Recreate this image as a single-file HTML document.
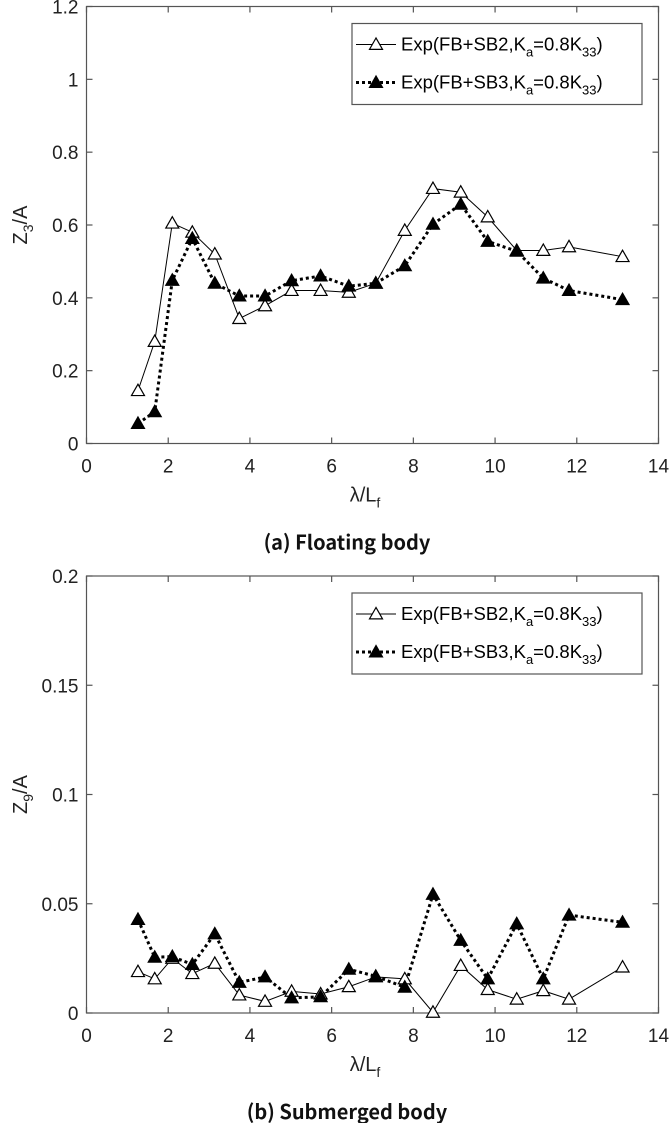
<!DOCTYPE html>
<html><head><meta charset="utf-8">
<style>
html,body{margin:0;padding:0;background:#fff;}
svg{display:block;font-family:"Liberation Sans",Arial,sans-serif;}
.cap{font-family:"Noto Sans CJK KR","Liberation Sans",sans-serif;font-weight:bold;}
</style></head>
<body>
<svg id="chart" width="670" height="1123" viewBox="0 0 670 1123" xmlns="http://www.w3.org/2000/svg"></svg>
<script>
const xCats = [1.26,1.67,2.10,2.59,3.14,3.74,4.37,5.02,5.73,6.42,7.08,7.79,8.48,9.16,9.82,10.53,11.18,11.81,13.12];
const topOpen = [0.145,0.28,0.605,0.58,0.52,0.343,0.378,0.42,0.42,0.415,0.44,0.585,0.70,0.69,0.622,0.53,0.53,0.54,0.513];
const topFilled = [0.055,0.087,0.448,0.563,0.44,0.405,0.405,0.447,0.46,0.432,0.44,0.488,0.602,0.657,0.555,0.528,0.454,0.42,0.395];
const botOpen = [0.0189,0.0156,0.025,0.018,0.0227,0.0082,0.0053,0.0099,0.0087,0.012,0.0165,0.0156,0.0003,0.0217,0.0107,0.0063,0.0102,0.0063,0.021];
const botFilled = [0.0428,0.0255,0.0258,0.0222,0.0362,0.014,0.0165,0.0069,0.0074,0.020,0.0168,0.0118,0.0543,0.0332,0.0156,0.0408,0.0156,0.0448,0.0415];
const xTicks = [0,2,4,6,8,10,12,14];
const topYTicks = [0,0.2,0.4,0.6,0.8,1,1.2];
const topYLabels = ["0","0.2","0.4","0.6","0.8","1","1.2"];
const botYTicks = [0,0.05,0.1,0.15,0.2];
const botYLabels = ["0","0.05","0.1","0.15","0.2"];

const svg = document.getElementById('chart');
const NS = 'http://www.w3.org/2000/svg';
function mk(tag, attrs, parent){
  const e = document.createElementNS(NS, tag);
  for (const k in attrs) e.setAttribute(k, attrs[k]);
  (parent||svg).appendChild(e);
  return e;
}
function tri(g, cx, cy, filled){
  const s = 6.5;
  return mk('polygon', {points:`${cx},${cy-s} ${cx-s},${cy+s*0.75} ${cx+s},${cy+s*0.75}`,
    fill: filled?'#000':'#fff', stroke:'#000','stroke-width':1.2}, g);
}
function panel(cfg){
  const L=86.5, R=658.5, T=cfg.top, B=cfg.top+437;
  const xs = v => L + (v-0)/14*(R-L);
  const ys = v => B - v/cfg.ymax*(B-T);
  const g = mk('g', {});
  
  
  const frame = mk('rect', {x:L,y:T,width:R-L,height:B-T,fill:'none',stroke:'#555','stroke-width':1.2}, g);
  
  
  xTicks.forEach(t=>{
    const x = xs(t);
    mk('line',{x1:x,y1:B,x2:x,y2:B-6,stroke:'#555','stroke-width':1.2},g);
    mk('line',{x1:x,y1:T,x2:x,y2:T+6,stroke:'#555','stroke-width':1.2},g);
    const tx = mk('text',{x:x,y:B+29,'font-size':19,'text-anchor':'middle',fill:'#222'},g);
    tx.textContent = t;
    
    
  });
  cfg.yticks.forEach((t,i)=>{
    const y = ys(t);
    mk('line',{x1:L,y1:y,x2:L+6,y2:y,stroke:'#555','stroke-width':1.2},g);
    mk('line',{x1:R,y1:y,x2:R-6,y2:y,stroke:'#555','stroke-width':1.2},g);
    const tx = mk('text',{x:L-8,y:y+7,'font-size':19,'text-anchor':'end',fill:'#222'},g);
    tx.textContent = cfg.ylabels[i];
    
    
  });
  const ptsO = xCats.map((x,i)=>xs(x)+','+ys(cfg.open[i])).join(' ');
  const ptsF = xCats.map((x,i)=>xs(x)+','+ys(cfg.filled[i])).join(' ');
  const lo = mk('polyline',{points:ptsO,fill:'none',stroke:'#000','stroke-width':1},g);
  
  
  const lf = mk('polyline',{points:ptsF,fill:'none',stroke:'#000','stroke-width':3,'stroke-dasharray':'3 3'},g);
  
  
  xCats.forEach((x,i)=>{
    const m = tri(g, xs(x), ys(cfg.open[i]), false);
    
    
  });
  xCats.forEach((x,i)=>{
    const m = tri(g, xs(x), ys(cfg.filled[i]), true);
    
    
  });
  const lg = mk('g',{},g);
  
  
  mk('rect',{x:352,y:T+17,width:290,height:81,fill:'#fff',stroke:'#555','stroke-width':1.2},lg);
  const r1 = T+38, r2 = T+76;
  mk('line',{x1:356,y1:r1,x2:396,y2:r1,stroke:'#000','stroke-width':1},lg);
  tri(lg,376,r1,false);
  mk('line',{x1:356,y1:r2,x2:396,y2:r2,stroke:'#000','stroke-width':3,'stroke-dasharray':'3 3'},lg);
  tri(lg,376,r2,true);
  [[r1,'SB2'],[r2,'SB3']].forEach(([y,s])=>{
    const t = mk('text',{x:401,y:y+6,'font-size':18.5,fill:'#000'},lg);
    t.innerHTML = `Exp(FB+${s},K<tspan dy="6" font-size="13">a</tspan><tspan dy="-6">=0.8K</tspan><tspan dy="6" font-size="13">33</tspan><tspan dy="-6">)</tspan>`;
    
    
  });
  const yl = mk('text',{x:0,y:0,'font-size':20,'text-anchor':'middle',fill:'#222',transform:`translate(27,${(T+B)/2}) rotate(-90)`},g);
  yl.innerHTML = `Z<tspan dy="6" font-size="14">${cfg.sub}</tspan><tspan dy="-6">/A</tspan>`;
  
  
  const xl = mk('text',{x:365,y:B+58,'font-size':20,'text-anchor':'middle',fill:'#222'},g);
  xl.innerHTML = `λ/L<tspan dy="6" font-size="14">f</tspan>`;
  
  
  const cp = mk('text',{x:347,y:B+106,'font-size':20,'text-anchor':'middle',fill:'#111','class':'cap'},g);
  cp.textContent = cfg.caption;
  
  
}
panel({name:'floating-body-chart',top:6.5,ymax:1.2,yticks:topYTicks,ylabels:topYLabels,open:topOpen,filled:topFilled,sub:'3',caption:'(a)  Floating  body'});
panel({name:'submerged-body-chart',top:576,ymax:0.2,yticks:botYTicks,ylabels:botYLabels,open:botOpen,filled:botFilled,sub:'9',caption:'(b)  Submerged  body'});
</script>
</body></html>
